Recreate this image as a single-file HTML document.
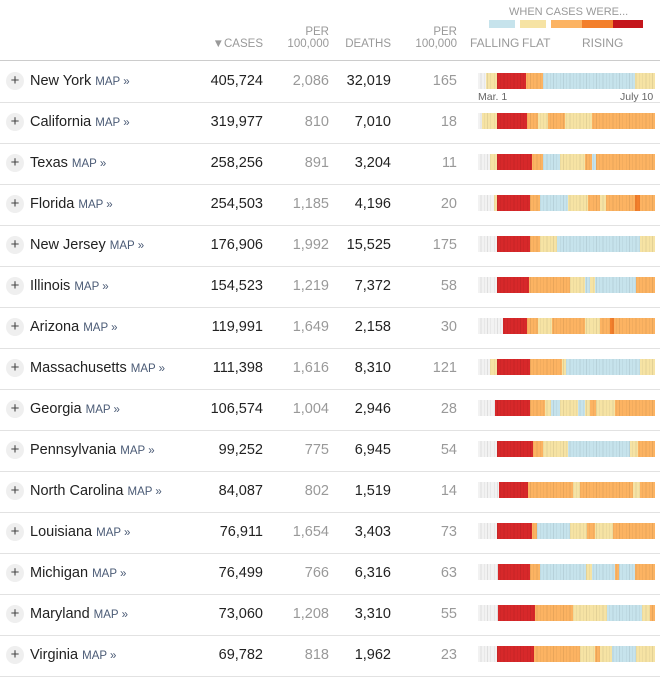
<!DOCTYPE html>
<html><head><meta charset="utf-8"><style>
body{margin:0;width:666px;height:680px;background:#fff;font-family:"Liberation Sans",sans-serif;position:relative;overflow:hidden}
.a{position:absolute;white-space:nowrap}
.h{font-size:11.5px;color:#999;text-align:right}
.row{position:absolute;left:0;width:666px;height:41px}
.row:after{content:"";position:absolute;left:0;bottom:-1px;width:660px;height:1px;background:#e2e2e2}
.pl{position:absolute;left:6px;top:11px;width:18px;height:18px;border-radius:50%;background:#efefef;color:#444;font-size:15px;line-height:17px;text-align:center}
.nm{position:absolute;left:30px;top:12px;font-size:14.5px;color:#222}
.nm span{font-size:11.5px;color:#4a5a75}
.n{position:absolute;top:12px;font-size:14.5px;text-align:right}
.c1{right:403px;color:#222}.c2{right:337px;color:#999}.c3{right:275px;color:#222}.c4{right:209px;color:#999}
.st{position:absolute;left:478px;top:11px;width:177px;height:16px}
.st div{position:absolute;top:0;height:16px}
.ov{position:absolute;left:0;top:0;width:177px;height:16px;background:repeating-linear-gradient(90deg,rgba(255,255,255,0) 0,rgba(255,255,255,0) 2.6px,rgba(0,0,0,.08) 2.6px,rgba(0,0,0,.08) 3.3px)}
</style></head><body>
<div class="a" style="left:509px;top:6px;font-size:11px;color:#999">WHEN CASES WERE...</div>
<div class="a" style="left:489px;top:20px;width:26px;height:8px;background:#c6e3ec"></div>
<div class="a" style="left:520px;top:20px;width:26px;height:8px;background:#f6e3a4"></div>
<div class="a" style="left:551px;top:20px;width:31px;height:8px;background:#fcb362"></div>
<div class="a" style="left:582px;top:20px;width:31px;height:8px;background:#f37f2b"></div>
<div class="a" style="left:613px;top:20px;width:30px;height:8px;background:#c4161c"></div>
<div class="a" style="left:470px;top:36px;font-size:12px;color:#999">FALLING</div>
<div class="a" style="left:522px;top:36px;font-size:12px;color:#999">FLAT</div>
<div class="a" style="left:582px;top:36px;font-size:12px;color:#999">RISING</div>
<div class="a h" style="right:403px;top:38px">▼CASES</div>
<div class="a h" style="right:337px;top:26px">PER</div>
<div class="a h" style="right:337px;top:38px">100,000</div>
<div class="a h" style="right:275px;top:38px">DEATHS</div>
<div class="a h" style="right:209px;top:26px">PER</div>
<div class="a h" style="right:209px;top:38px">100,000</div>
<div class="a" style="left:0;top:60px;width:660px;height:1px;background:#ccc"></div>

<div class="row" style="top:61px"><div class="pl">+</div><div class="nm">New York <span>MAP »</span></div><div class="n c1">405,724</div><div class="n c2">2,086</div><div class="n c3">32,019</div><div class="n c4">165</div><div class="st" style="top:12px"></div></div>
<div class="a" style="left:478px;top:91px;font-size:10.5px;color:#666">Mar. 1</div>
<div class="a" style="left:620px;top:91px;font-size:10.5px;color:#666">July 10</div>
<div class="row" style="top:102px"><div class="pl">+</div><div class="nm">California <span>MAP »</span></div><div class="n c1">319,977</div><div class="n c2">810</div><div class="n c3">7,010</div><div class="n c4">18</div><div class="st"></div></div>
<div class="row" style="top:143px"><div class="pl">+</div><div class="nm">Texas <span>MAP »</span></div><div class="n c1">258,256</div><div class="n c2">891</div><div class="n c3">3,204</div><div class="n c4">11</div><div class="st"></div></div>
<div class="row" style="top:184px"><div class="pl">+</div><div class="nm">Florida <span>MAP »</span></div><div class="n c1">254,503</div><div class="n c2">1,185</div><div class="n c3">4,196</div><div class="n c4">20</div><div class="st"></div></div>
<div class="row" style="top:225px"><div class="pl">+</div><div class="nm">New Jersey <span>MAP »</span></div><div class="n c1">176,906</div><div class="n c2">1,992</div><div class="n c3">15,525</div><div class="n c4">175</div><div class="st"></div></div>
<div class="row" style="top:266px"><div class="pl">+</div><div class="nm">Illinois <span>MAP »</span></div><div class="n c1">154,523</div><div class="n c2">1,219</div><div class="n c3">7,372</div><div class="n c4">58</div><div class="st"></div></div>
<div class="row" style="top:307px"><div class="pl">+</div><div class="nm">Arizona <span>MAP »</span></div><div class="n c1">119,991</div><div class="n c2">1,649</div><div class="n c3">2,158</div><div class="n c4">30</div><div class="st"></div></div>
<div class="row" style="top:348px"><div class="pl">+</div><div class="nm">Massachusetts <span>MAP »</span></div><div class="n c1">111,398</div><div class="n c2">1,616</div><div class="n c3">8,310</div><div class="n c4">121</div><div class="st"></div></div>
<div class="row" style="top:389px"><div class="pl">+</div><div class="nm">Georgia <span>MAP »</span></div><div class="n c1">106,574</div><div class="n c2">1,004</div><div class="n c3">2,946</div><div class="n c4">28</div><div class="st"></div></div>
<div class="row" style="top:430px"><div class="pl">+</div><div class="nm">Pennsylvania <span>MAP »</span></div><div class="n c1">99,252</div><div class="n c2">775</div><div class="n c3">6,945</div><div class="n c4">54</div><div class="st"></div></div>
<div class="row" style="top:471px"><div class="pl">+</div><div class="nm">North Carolina <span>MAP »</span></div><div class="n c1">84,087</div><div class="n c2">802</div><div class="n c3">1,519</div><div class="n c4">14</div><div class="st"></div></div>
<div class="row" style="top:512px"><div class="pl">+</div><div class="nm">Louisiana <span>MAP »</span></div><div class="n c1">76,911</div><div class="n c2">1,654</div><div class="n c3">3,403</div><div class="n c4">73</div><div class="st"></div></div>
<div class="row" style="top:553px"><div class="pl">+</div><div class="nm">Michigan <span>MAP »</span></div><div class="n c1">76,499</div><div class="n c2">766</div><div class="n c3">6,316</div><div class="n c4">63</div><div class="st"></div></div>
<div class="row" style="top:594px"><div class="pl">+</div><div class="nm">Maryland <span>MAP »</span></div><div class="n c1">73,060</div><div class="n c2">1,208</div><div class="n c3">3,310</div><div class="n c4">55</div><div class="st"></div></div>
<div class="row" style="top:635px"><div class="pl">+</div><div class="nm">Virginia <span>MAP »</span></div><div class="n c1">69,782</div><div class="n c2">818</div><div class="n c3">1,962</div><div class="n c4">23</div><div class="st"></div></div>
<script>
var C={g:"#f2f2f2",y:"#f6e3a4",o:"#fcb362",r:"#d7282a",b:"#c6e3ec",d:"#f37f2b"};
var D=[
"g486 y497 r526 o543 b635 y655",
"g482 y497 r527 o538 y548 o565 y592 o655",
"g490 y497 r532 o543 b560 y585 o592 b596 o655",
"g494 y497 r530 o540 b568 y588 o600 y606 o635 d640 o655",
"g497 r530 o540 y557 b640 y655",
"g497 r529 o570 y585 b590 y595 b636 o655",
"g503 r527 o538 y552 o585 y600 o610 d614 o655",
"g490 y497 r530 o562 y566 b640 y655",
"g495 r530 o545 y551 b560 y578 b585 y590 o596 y615 o655",
"g497 r533 o543 y568 b630 y638 o655",
"g499 r528 o573 y580 o633 y640 o655",
"g497 r532 o537 b570 y587 o595 y613 o655",
"g498 r530 o540 b586 y592 b615 o619 b635 o655",
"g498 r535 o573 y607 b642 y650 o655",
"g497 r534 o580 y595 o600 y612 b636 y655"];
var S=document.querySelectorAll('.st');
S.forEach(function(el,i){var x=478,h='';D[i].split(' ').forEach(function(s){var c=C[s[0]],e=+s.slice(1);h+='<div style="left:'+(x-478)+'px;width:'+(e-x)+'px;background:'+c+'"></div>';x=e;});el.innerHTML=h+'<div class="ov"></div>';});
</script>
</body></html>
